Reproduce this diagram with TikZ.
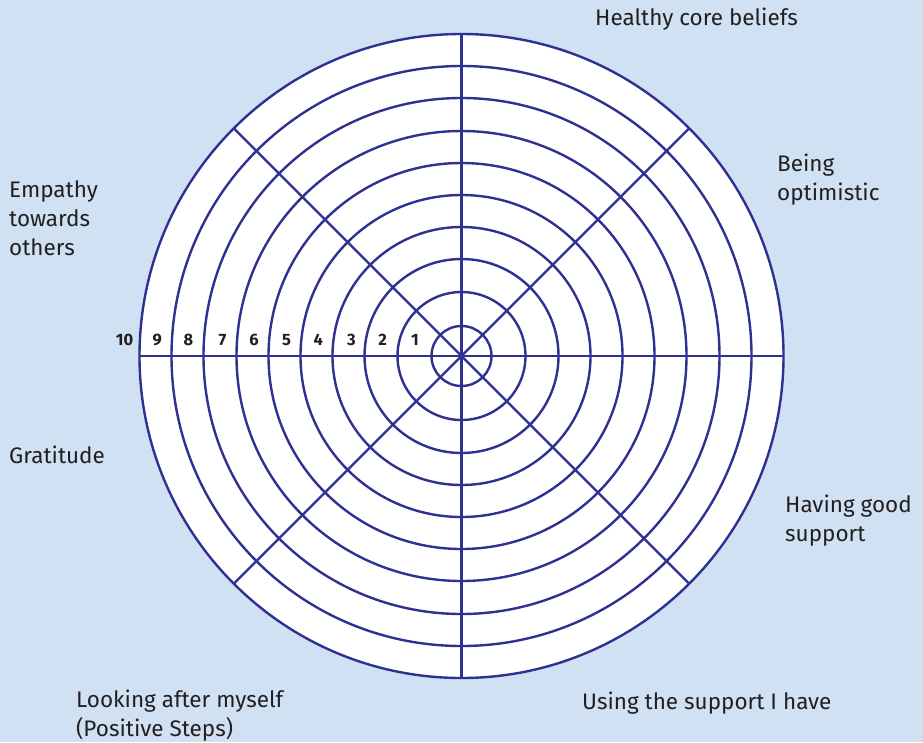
\documentclass[tikz,border=0pt]{standalone}
\usepackage{fontspec}
\usetikzlibrary{calc}
\setmainfont{Fira Sans}
\definecolor{bgblue}{HTML}{CFE1F3}
\definecolor{navy}{HTML}{2E3192}
\definecolor{txt}{HTML}{231F20}
\begin{document}
\begin{tikzpicture}[x=1pt,y=-1pt,
  ring/.style={draw=navy,line width=2.4pt},
  lbl/.style={anchor=base west,inner sep=0pt,text=txt,font=\fontsize{22.5}{28.7}\selectfont,align=left},
  num/.style={anchor=base,inner sep=0pt,text=txt,font=\fontsize{16.5}{16.5}\selectfont\bfseries}]
\fill[bgblue] (0,0) rectangle (923,742);
\useasboundingbox (0,0) rectangle (923,742);
\coordinate (c) at (461.5,356);
\fill[white] (c) circle[radius=322];
% spokes
\foreach \a in {0,45,90,135} {
  \draw[ring] ($(c)+(\a:322)$) -- ($(c)+(\a+180:322)$);
}
% rings
\foreach \r in {30,64,97,129,161,193,225,258,290,322} {
  \draw[ring] (c) circle[radius=\r];
}
% ring numbers
\node[num] (n1) at (415,345.5) {1};
\node[num] (n2) at (382.7,345.5) {2};
\node[num] (n3) at (351.5,345.5) {3};
\node[num] (n4) at (318.3,345.5) {4};
\node[num] (n5) at (286.5,345.5) {5};
\node[num] (n6) at (254,345.5) {6};
\node[num] (n7) at (222.5,345.5) {7};
\node[num] (n8) at (188.5,345.5) {8};
\node[num] (n9) at (157.3,345.5) {9};
\node[num] (n10) at (124.5,345.5) {10};
% labels (base = baseline of last line)
\node[lbl] (healthy) at (595,25) {Healthy core beliefs};
\node[lbl] (optim) at (777,200.5) {Being\\optimistic};
\node[lbl] (empathy) at (9,255) {Empathy\\towards\\others};
\node[lbl] (grat) at (9,463.5) {Gratitude};
\node[lbl] (support) at (785,541.5) {Having good\\support};
\node[lbl] (looking) at (76,736) {Looking after myself\\(Positive Steps)};
\node[lbl] (using) at (582,709) {Using the support I have};
\end{tikzpicture}
\end{document}
